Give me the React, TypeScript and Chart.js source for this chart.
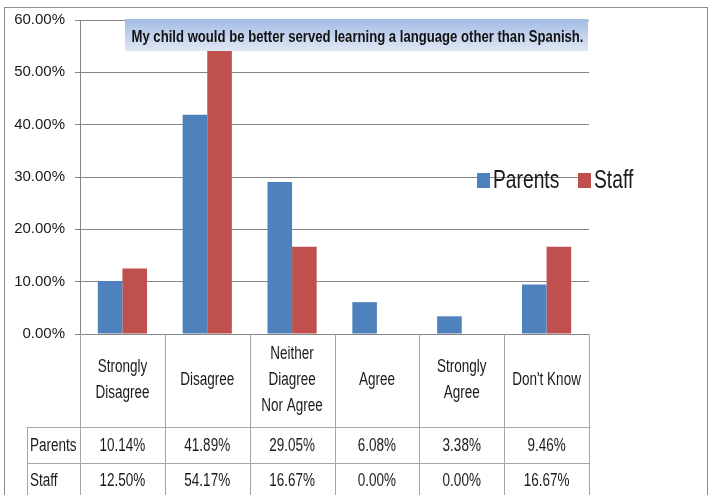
import React, { useEffect, useRef } from "react";
import { Chart, registerables } from "chart.js";

Chart.register(...registerables);

const chartTitle = "My child would be better served learning a language other than Spanish.";
const categoryLines: string[][] = [
  ["Strongly", "Disagree"],
  ["Disagree"],
  ["Neither", "Diagree", "Nor Agree"],
  ["Agree"],
  ["Strongly", "Agree"],
  ["Don't Know"],
];
const seriesNames = ["Parents", "Staff"];
const parentsValues = [0.1014, 0.4189, 0.2905, 0.0608, 0.0338, 0.0946];
const staffValues = [0.125, 0.5417, 0.1667, 0, 0, 0.1667];
const seriesColors = ["#4f81bd", "#c0504d"];
const yMin = 0;
const yMax = 0.6;
const yStep = 0.1;

const FONT = "'Liberation Sans', Arial, sans-serif";

function drawText(
  ctx: CanvasRenderingContext2D,
  s: string,
  x: number,
  y: number,
  align: CanvasTextAlign,
  font: string,
  sx: number,
  baseline: CanvasTextBaseline = "middle"
) {
  ctx.save();
  ctx.translate(x, y);
  ctx.scale(sx, 1);
  ctx.font = font;
  ctx.textAlign = align;
  ctx.textBaseline = baseline;
  ctx.fillStyle = "#1a1a1a";
  ctx.fillText(s, 0, 0);
  ctx.restore();
}

const overlayPlugin = {
  id: "overlay",
  afterDatasetsDraw(chart: any) {
    const ctx: CanvasRenderingContext2D = chart.ctx;
    const a = chart.chartArea;
    const xs = chart.scales.x;
    const n = categoryLines.length;
    const cw = (a.right - a.left) / n;
    ctx.save();

    // outer chart border
    ctx.strokeStyle = "#8c8c8c";
    ctx.lineWidth = 1;
    ctx.strokeRect(4.5, 7.5, 703, 600);

    // data table
    const row1 = a.bottom + 93;
    const row2 = row1 + 36;
    const tableLeft = 27;
    const tableBottom = 495;
    ctx.strokeStyle = "#a6a6a6";
    ctx.beginPath();
    for (let i = 0; i <= n; i++) {
      const X = Math.round(a.left + i * cw) + 0.5;
      ctx.moveTo(X, a.bottom);
      ctx.lineTo(X, tableBottom);
    }
    ctx.moveTo(tableLeft + 0.5, row1);
    ctx.lineTo(tableLeft + 0.5, tableBottom);
    ctx.moveTo(tableLeft, row1 + 0.5);
    ctx.lineTo(a.right, row1 + 0.5);
    ctx.moveTo(tableLeft, row2 + 0.5);
    ctx.lineTo(a.right, row2 + 0.5);
    ctx.stroke();

    const tf = `18px ${FONT}`;
    const sx = 0.75;
    const headerMid = (a.bottom + row1) / 2;
    const lh = 26;
    for (let i = 0; i < n; i++) {
      const cx = xs.getPixelForValue(i);
      const lines = categoryLines[i];
      const start = headerMid - ((lines.length - 1) * lh) / 2;
      lines.forEach((ln, j) => drawText(ctx, ln, cx, start + j * lh, "center", tf, sx));
      drawText(ctx, (parentsValues[i] * 100).toFixed(2) + "%", cx, (row1 + row2) / 2 + 1, "center", tf, sx);
      drawText(ctx, (staffValues[i] * 100).toFixed(2) + "%", cx, (row2 + tableBottom + 2) / 2 + 1, "center", tf, sx);
    }
    drawText(ctx, seriesNames[0], tableLeft + 3, (row1 + row2) / 2 + 1, "left", tf, sx);
    drawText(ctx, seriesNames[1], tableLeft + 3, (row2 + tableBottom + 2) / 2 + 1, "left", tf, sx);

    // title box
    const tx0 = 125;
    const tx1 = a.right - 1;
    const ty0 = a.top - 1;
    const ty1 = a.top + 31;
    const g = ctx.createLinearGradient(0, ty0, 0, ty1);
    g.addColorStop(0, "#a3bbe5");
    g.addColorStop(1, "#dfe7f5");
    ctx.fillStyle = g;
    ctx.fillRect(tx0, ty0, tx1 - tx0, ty1 - ty0);
    ctx.save();
    ctx.font = `bold 17px ${FONT}`;
    ctx.fillStyle = "#111";
    ctx.textAlign = "center";
    ctx.textBaseline = "alphabetic";
    ctx.fillText(chartTitle, (tx0 + tx1) / 2 + 1, ty0 + 23, 452);
    ctx.restore();

    // legend
    const ly = 188;
    const lf = `25px ${FONT}`;
    const items = [
      { x: 477, tx: 493 },
      { x: 578, tx: 594 },
    ];
    items.forEach((it, k) => {
      ctx.fillStyle = seriesColors[k];
      ctx.fillRect(it.x, 173, 13, 15);
      drawText(ctx, seriesNames[k], it.tx, ly, "left", lf, 0.77, "alphabetic");
    });

    ctx.restore();
  },
};

export default function App() {
  const ref = useRef<HTMLCanvasElement | null>(null);
  useEffect(() => {
    document.body.style.margin = "0";
    const canvas = ref.current!;
    const chart = new Chart(canvas, {
      type: "bar",
      data: {
        labels: categoryLines.map((l) => l.join(" ")),
        datasets: [
          {
            label: seriesNames[0],
            data: parentsValues,
            backgroundColor: seriesColors[0],
            borderWidth: 0,
            categoryPercentage: 0.58,
            barPercentage: 1,
          },
          {
            label: seriesNames[1],
            data: staffValues,
            backgroundColor: seriesColors[1],
            borderWidth: 0,
            categoryPercentage: 0.58,
            barPercentage: 1,
          },
        ],
      },
      options: {
        responsive: false,
        animation: false,
        devicePixelRatio: 1,
        layout: { padding: { left: 0, top: 20, right: 128, bottom: 161 } },
        plugins: {
          legend: { display: false },
          title: { display: false },
          tooltip: { enabled: false },
        },
        scales: {
          x: { display: false },
          y: {
            min: yMin,
            max: yMax,
            afterFit: (s: any) => {
              s.width = 80;
            },
            ticks: {
              stepSize: yStep,
              padding: 10,
              color: "#1a1a1a",
              font: { family: FONT, size: 15 },
              callback: (v: any) => (Number(v) * 100).toFixed(2) + "%",
            },
            grid: { color: "#868686", tickLength: 5, drawTicks: true },
            border: { display: true, color: "#868686" },
          },
        },
      },
      plugins: [overlayPlugin],
    });
    return () => chart.destroy();
  }, []);
  return (
    <div style={{ position: "absolute", left: 0, top: 0, width: 717, height: 495, background: "#fff" }}>
      <canvas ref={ref} width={717} height={495} style={{ width: 717, height: 495, display: "block" }} />
    </div>
  );
}
